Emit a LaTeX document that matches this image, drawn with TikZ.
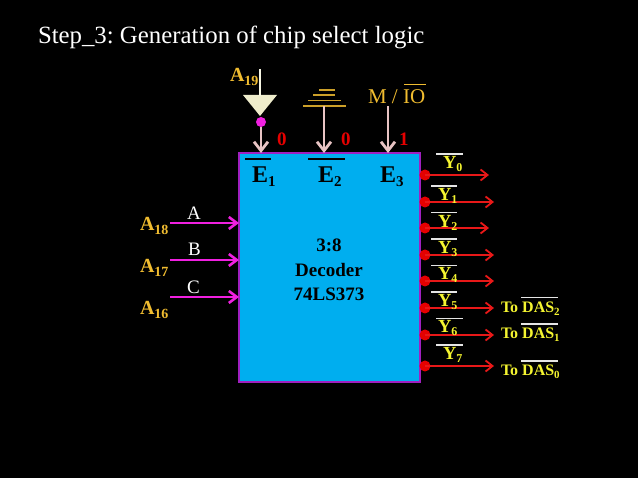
\documentclass[tikz,border=0pt]{standalone}
\usepackage{fontspec}
\setmainfont{Liberation Serif}
\usetikzlibrary{arrows.meta}
\frenchspacing
\definecolor{gold}{HTML}{F0BC30}
\definecolor{pinkline}{HTML}{E8C4C4}
\definecolor{chipblue}{HTML}{00AEEF}
\definecolor{chipedge}{HTML}{A020C0}
\definecolor{mag}{HTML}{F020E0}
\definecolor{redline}{HTML}{E81818}
\definecolor{yel}{HTML}{F4F430}
\newcommand{\fs}[1]{\fontsize{#1}{#1}\selectfont}
\newcommand{\sbs}[2]{\raisebox{-#1pt}{#2}}
\tikzset{
  x=1pt,y=-1pt,
  lab/.style={anchor=base west,inner sep=0pt,outer sep=0pt},
  title/.style={lab,text=white,font=\fs{24.8}},
  goldlab/.style={lab,text=gold,font=\fs{20}\bfseries},
  plainlab/.style={lab,text=white,font=\fs{19}},
  redlab/.style={lab,text=red!90!black,font=\fs{19}\bfseries},
  enlab/.style={lab,text=black,font=\fs{24}\bfseries},
  chiplab/.style={anchor=base,inner sep=0pt,text=black,font=\fs{19}\bfseries},
  ylab/.style={lab,text=yel,font=\fs{18.5}\bfseries},
  dalab/.style={lab,text=yel,font=\fs{16}\bfseries},
  pinkarrow/.style={draw=pinkline,line width=2.8pt,-{Straight Barb[length=9pt,width=14pt,line width=2.8pt]}},
  magarrow/.style={draw=mag,line width=2.6pt,-{Straight Barb[length=8pt,width=12pt,line width=2.6pt]}},
  redarrow/.style={draw=redline,line width=1.6pt,-{Straight Barb[length=7pt,width=11pt,line width=1.8pt]}},
  reddot/.style={circle,fill=red!90!black,draw=none,minimum size=11pt,inner sep=0pt},
  bark/.style={draw=black,line width=1.6pt},
  bary/.style={draw=white!90!black,line width=1.2pt},
  gnd/.style={draw=gold!85!black,line width=1.2pt},
}
\begin{document}
\begin{tikzpicture}
\useasboundingbox[fill=black] (0,0) rectangle (638,478);
\node[title] (ttl) at (38,44) {Step\_3: Generation of chip select logic};
% chip
\node[draw=chipedge,line width=2pt,fill=chipblue,minimum width=181pt,minimum height=229pt,inner sep=0pt,outer sep=0pt] (box) at (329.5,267.5) {};
\node[chiplab] (c1) at (329,252) {3:8};
\node[chiplab] (c2) at (329,277) {Decoder};
\node[chiplab] (c3) at (329,301) {74LS373};
% enable labels
\node[enlab] (e1) at (252,183) {E\sbs{4}{\fs{15}1}};
\node[enlab] (e2) at (318,183) {E\sbs{4}{\fs{15}2}};
\node[enlab] (e3) at (380,183) {E\sbs{4}{\fs{15}3}};
\draw[bark] (245,159) -- (271,159);
\draw[bark] (308,159) -- (345,159);
% enable inputs
\node[goldlab] (a19) at (230,82) {A\sbs{4}{\fs{14}19}};
\coordinate (t1) at (243,95); \coordinate (t2) at (277,95); \coordinate (t3) at (260,116);
\fill[fill=white!85!olive] (t1) -- (t2) -- (t3) -- cycle;
\coordinate (a19top) at (260,69);
\draw[line width=1.5pt,draw=white!92!olive] (a19top) -- (260,96);
\node[circle,fill=mag,minimum size=10pt,inner sep=0pt] (bub) at (261,122) {};
\draw[pinkarrow] (bub) -- (box.north -| bub);
\coordinate (gndtop) at (324,106);
\draw[gnd] (303,106) -- (346,106);
\draw[gnd] (308,100.5) -- (341,100.5);
\draw[gnd] (313,95) -- (335,95);
\draw[gnd] (319,90) -- (335,90);
\draw[pinkarrow] (gndtop) -- (box.north -| gndtop);
\node[lab,text=gold,font=\fs{21}] (mio) at (368,104) {M / IO};
\draw[draw=gold,line width=1.2pt] (404,84.5) -- (426,84.5);
\coordinate (miob) at (388,106);
\draw[pinkarrow] (miob) -- (box.north -| miob);
\node[redlab] (v1) at (277,146) {0};
\node[redlab] (v2) at (341,146) {0};
\node[redlab] (v3) at (399,146) {1};
% address inputs
\coordinate (ia) at (170,223); \coordinate (ib) at (170,260); \coordinate (ic) at (170,297);
\draw[magarrow] (ia) -- (box.west |- ia);
\draw[magarrow] (ib) -- (box.west |- ib);
\draw[magarrow] (ic) -- (box.west |- ic);
\node[plainlab] (la) at (187,220) {A};
\node[plainlab] (lb) at (188,256) {B};
\node[plainlab] (lc) at (187,294) {C};
\node[goldlab] (a18) at (140,231) {A\sbs{4}{\fs{14}18}};
\node[goldlab] (a17) at (140,273) {A\sbs{4}{\fs{14}17}};
\node[goldlab] (a16) at (140,315) {A\sbs{4}{\fs{14}16}};
% outputs
\foreach \i/\yy/\xe in {0/175/489,1/202/494,2/228/489,3/255/494,4/281/494,5/308/494,6/335/494,7/366/494}{
  \node[reddot] (d\i) at (425,\yy) {};
  \coordinate (o\i) at (\xe,\yy);
  \draw[redarrow] (d\i.center) -- (o\i);
}
\foreach \i/\xx/\yy in {0/443/169,1/438/201,2/438/228,3/438/254,4/438/280,5/438/307,6/438/333,7/443/360}{
  \node[ylab] (y\i) at (\xx,\yy) {Y\sbs{3}{\fs{12}\i}};
}
\draw[bary] (436,154) -- (463,154);
\draw[bary] (431,186) -- (457,186);
\draw[bary] (431,212.5) -- (457,212.5);
\draw[bary] (431,239) -- (457,239);
\draw[bary] (431,265.5) -- (457,265.5);
\draw[bary] (431,292) -- (457,292);
\draw[bary] (436,318.5) -- (463,318.5);
\draw[bary] (436,345) -- (463,345);
\node[dalab] (das2) at (501,313) {To DAS\sbs{3}{\fs{11}2}};
\node[dalab] (das1) at (501,339) {To DAS\sbs{3}{\fs{11}1}};
\node[dalab] (das0) at (501,376) {To DAS\sbs{3}{\fs{11}0}};
\draw[bary] (521,297.5) -- (558,297.5);
\draw[bary] (521,324) -- (558,324);
\draw[bary] (521,361) -- (558,361);
\end{tikzpicture}
\end{document}
